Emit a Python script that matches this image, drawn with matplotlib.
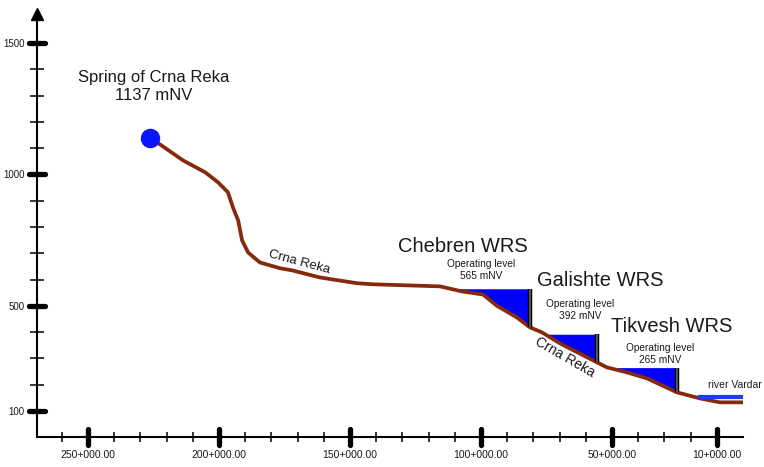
import matplotlib.pyplot as plt
import numpy as np
from matplotlib.markers import MarkerStyle

plt.rcParams['font.family'] = ['Liberation Sans', 'DejaVu Sans']

# river profile (chainage in km, elevation in mNV)
chainage_km = [226.3, 223.7, 213.7, 205.3, 200.4, 196.6, 194.7, 192.7, 191.2, 188.9,
               184.4, 176.7, 172.1, 161.5, 147.3, 141.2, 115.6, 107.3, 99.2, 93.9,
               86.3, 81.3, 76.7, 69.8, 55.7, 51.9, 44.3, 36.6, 25.2, 16.4, 8.8, 0.0]
elevation_m = [1137, 1122, 1053, 1008, 970, 932, 875, 825, 749, 703,
               665, 643, 635, 608, 586, 582, 574, 555, 543, 500,
               456, 418, 399, 357, 285, 266, 247, 224, 171, 148, 133, 133]

spring_km = 226.3
spring_m = 1137

reservoirs = ['Chebren WRS', 'Galishte WRS', 'Tikvesh WRS']
res_levels = [565, 392, 265]
dam_km = [81.3, 55.7, 25.2]

vardar_km = [16.4, 0.0]
vardar_m = 152

y_major = [100, 500, 1000, 1500]
y_minor = [200, 300, 400, 600, 700, 800, 900, 1100, 1200, 1300, 1400]
x_major = [250, 200, 150, 100, 50, 10]
x_major_labels = ['250+000.00', '200+000.00', '150+000.00', '100+000.00', '50+000.00', '10+000.00']
x_minor = [260, 240, 230, 220, 210, 190, 180, 170, 160, 140, 130, 120, 110,
           90, 80, 70, 60, 40, 30, 20]

BROWN = '#862a0d'
BLUE = '#0000ff'
TXT = '#1a1a1a'

fig = plt.figure(figsize=(7.64, 4.67), dpi=100)
ax = fig.add_axes([0.0484, 0.0636, 0.924, 0.9064])

x_inc = np.array(chainage_km)[::-1]
y_inc = np.array(elevation_m)[::-1]

# reservoirs (water between operating level and river bed)
upper = [spring_km] + dam_km[:-1]
for lvl, d, up in zip(res_levels, dam_km, upper):
    xs = np.linspace(d, up, 800)
    prof = np.interp(xs, x_inc, y_inc)
    ax.fill_between(xs, np.minimum(prof, lvl), lvl, color=BLUE, lw=0, zorder=2)

ax.plot(chainage_km, elevation_m, color=BROWN, lw=2.7, solid_joinstyle='round', zorder=3)
ax.plot(vardar_km, [vardar_m] * len(vardar_km), color='#1a3cff', lw=3, zorder=4)

# dams
for lvl, d in zip(res_levels, dam_km):
    bed = np.interp(d, x_inc, y_inc)
    ax.plot([d, d], [lvl, bed], color='black', lw=3.2, solid_capstyle='butt', zorder=5)
    ax.plot([d, d], [lvl, bed], color='#555555', lw=1.4, solid_capstyle='butt', zorder=6)

ax.plot([spring_km], [spring_m], 'o', color='#0a14ff', ms=13, zorder=7)

# texts
ax.text(224.8, 1334, 'Spring of Crna Reka\n1137 mNV', ha='center', va='center',
        fontsize=12, color=TXT, linespacing=1.3)
ax.text(169.5, 667, 'Crna Reka', rotation=-15, ha='center', va='center',
        fontsize=9.5, color=TXT, rotation_mode='anchor')
ax.text(67.9, 305, 'Crna Reka', rotation=-30, ha='center', va='center',
        fontsize=10, color=TXT, rotation_mode='anchor')

title_pos = [(106.9, 724), (54.6, 595), (27.1, 423)]
level_pos = [(100.0, 636), (62.2, 486), (31.7, 315)]
for name, lvl, tp, lp in zip(reservoirs, res_levels, title_pos, level_pos):
    ax.text(tp[0], tp[1], name, ha='center', va='center', fontsize=14.5, color=TXT)
    ax.text(lp[0], lp[1], 'Operating level\n{} mNV'.format(lvl), ha='center', va='center',
            fontsize=7.3, color=TXT, linespacing=1.25)

ax.text(13.4, 199, 'river Vardar', ha='left', va='center', fontsize=7.5, color=TXT)

# axes
ax.set_xlim(269.5, 0)
ax.set_ylim(0, 1610)
for s in ['top', 'right']:
    ax.spines[s].set_visible(False)
for s in ['left', 'bottom']:
    ax.spines[s].set_linewidth(1.5)
    ax.spines[s].set_color('black')

ax.set_yticks(y_major)
ax.set_yticklabels([str(v) for v in y_major], fontsize=7, color=TXT)
ax.set_yticks(y_minor, minor=True)
ax.set_xticks(x_major)
ax.set_xticklabels(x_major_labels, fontsize=7.5, color=TXT)
ax.set_xticks(x_minor, minor=True)

ax.tick_params(which='major', length=0, pad=9)
ax.tick_params(axis='y', which='minor', direction='inout', length=10, width=1.1)
ax.tick_params(axis='x', which='minor', direction='inout', length=6.5, width=1.1)

# thick rounded major ticks
ax.plot([0] * len(y_major), y_major, ls='none', color='black',
        marker=MarkerStyle('_', capstyle='round'), ms=12, mew=3.8,
        transform=ax.get_yaxis_transform(), clip_on=False, zorder=8)
ax.plot(x_major, [0] * len(x_major), ls='none', color='black',
        marker=MarkerStyle('|', capstyle='round'), ms=12, mew=3.8,
        transform=ax.get_xaxis_transform(), clip_on=False, zorder=8)

# arrow at the top of the elevation axis
ax.plot([0], [1], marker='^', color='black', ms=9, transform=ax.transAxes,
        clip_on=False, zorder=8)

plt.savefig('out.png', dpi=100)
plt.close(fig)
